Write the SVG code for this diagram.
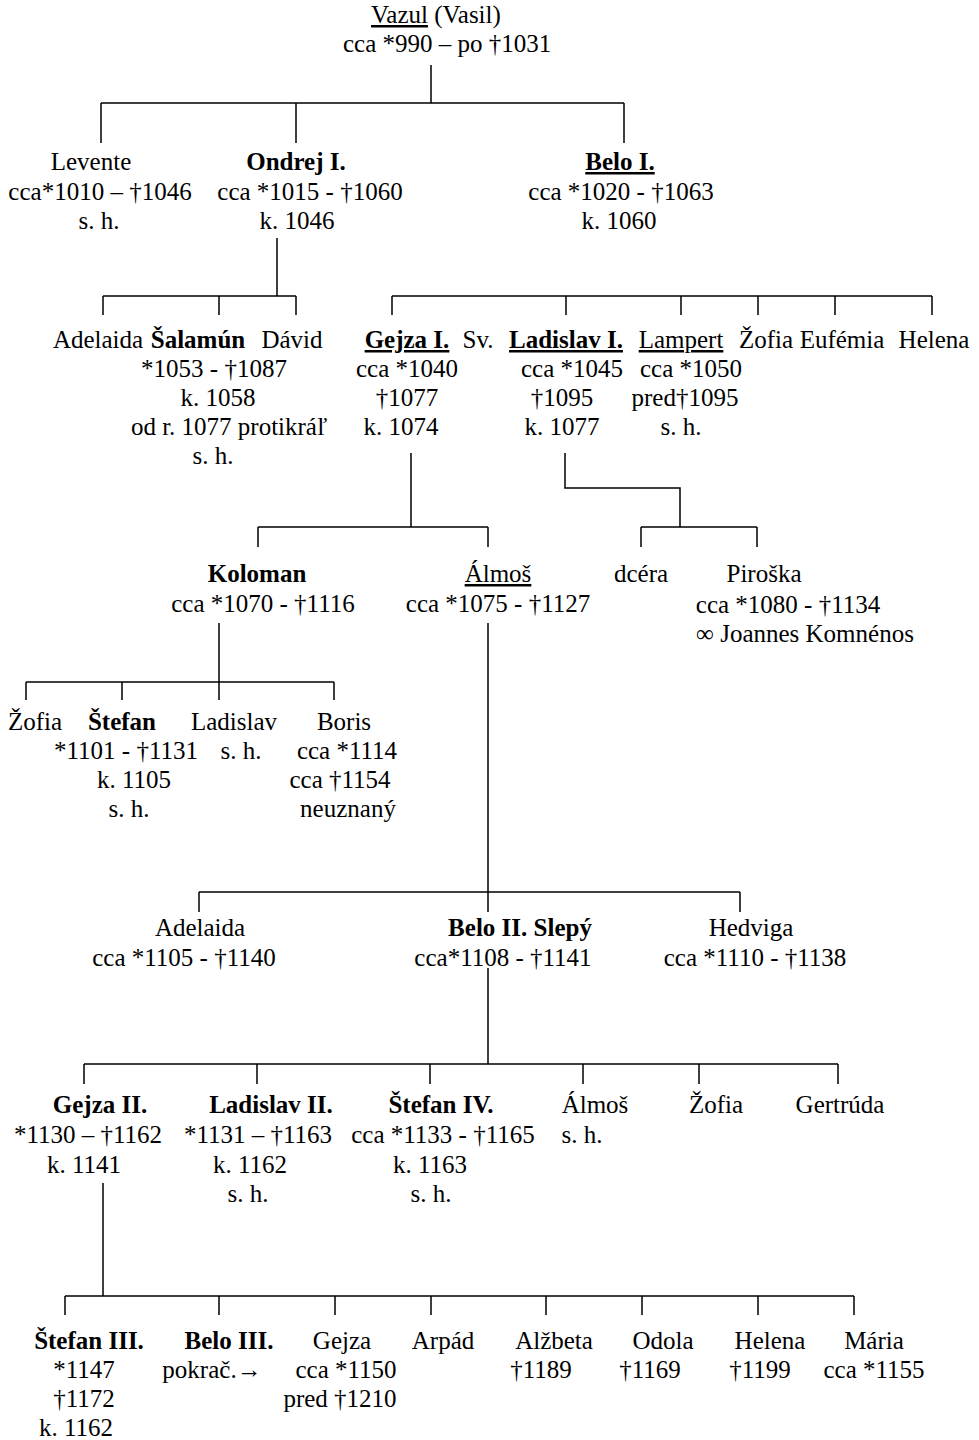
<svg xmlns="http://www.w3.org/2000/svg" width="979" height="1440" viewBox="0 0 979 1440">
<style>
text{font-family:"Liberation Serif","Times New Roman",serif;font-size:25px;fill:#000;text-anchor:middle}
.b{font-weight:bold}
.u{text-decoration:underline}
.s{text-anchor:start}
#connectors path{fill:none;stroke:#000;stroke-width:1.5}
</style>
<rect width="979" height="1440" fill="#fff"/>
<g id="connectors">
<path d="M431,65V103M101,103H624M101,103V143M296,103V143M624,103V143"/>
<path d="M277,238V296M103,296H296M103,296V315M219,296V315M296,296V315"/>
<path d="M392,296H932M392,296V315M566,296V315M681,296V315M758,296V315M835,296V315M932,296V315"/>
<path d="M411,453V527M258,527H488M258,527V547M488,527V547"/>
<path d="M565,453V488H680V527M641,527H757M641,527V547M757,527V547"/>
<path d="M219,623V700M26,682H334M26,682V700M122,682V700M334,682V700"/>
<path d="M488,623V912M199,892H740M199,892V912M740,892V912"/>
<path d="M488,968V1064M84,1064H838M84,1064V1084M257,1064V1084M430,1064V1084M583,1064V1084M699,1064V1084M838,1064V1084"/>
<path d="M103,1183V1296M65,1296H854M65,1296V1315M219,1296V1315M335,1296V1315M431,1296V1315M546,1296V1315M642,1296V1315M758,1296V1315M854,1296V1315"/>
</g>
<g id="vazul">
<text class="s" x="371" y="23"><tspan class="u">Vazul</tspan> (Vasil)</text>
<text class="s" x="343" y="52">cca *990 – po †1031</text>
</g>
<g id="levente">
<text x="91" y="170">Levente</text>
<text x="100" y="200">cca*1010 – †1046</text>
<text x="99" y="229">s. h.</text>
</g>
<g id="ondrej1">
<text class="b" x="296" y="170">Ondrej I.</text>
<text x="310" y="200">cca *1015 - †1060</text>
<text x="297" y="229">k. 1046</text>
</g>
<g id="belo1">
<text class="b u" x="620" y="170">Belo I.</text>
<text x="621" y="200">cca *1020 - †1063</text>
<text x="619" y="229">k. 1060</text>
</g>
<g id="adelaida1">
<text x="98" y="348">Adelaida</text>
</g>
<g id="salamun">
<text class="b" x="198" y="348">Šalamún</text>
<text x="214" y="377">*1053 - †1087</text>
<text x="218" y="406">k. 1058</text>
<text x="229" y="435">od r. 1077 protikráľ</text>
<text x="213" y="464">s. h.</text>
</g>
<g id="david">
<text x="292" y="348">Dávid</text>
</g>
<g id="gejza1">
<text class="b u" x="407" y="348">Gejza I.</text>
<text x="407" y="377">cca *1040</text>
<text x="407" y="406">†1077</text>
<text x="401" y="435">k. 1074</text>
</g>
<g id="ladislav1">
<text x="478" y="348">Sv.</text>
<text class="b u" x="566" y="348">Ladislav I.</text>
<text x="572" y="377">cca *1045</text>
<text x="562" y="406">†1095</text>
<text x="562" y="435">k. 1077</text>
</g>
<g id="lampert">
<text class="u" x="681" y="348">Lampert</text>
<text x="691" y="377">cca *1050</text>
<text x="685" y="406">pred†1095</text>
<text x="681" y="435">s. h.</text>
</g>
<g id="zofia1"><text x="766" y="348">Žofia</text></g>
<g id="eufemia"><text x="842" y="348">Eufémia</text></g>
<g id="helena1"><text x="934" y="348">Helena</text></g>
<g id="koloman">
<text class="b" x="257" y="582">Koloman</text>
<text x="263" y="612">cca *1070 - †1116</text>
</g>
<g id="almos1">
<text class="u" x="498" y="582">Álmoš</text>
<text x="498" y="612">cca *1075 - †1127</text>
</g>
<g id="dcera"><text x="641" y="582">dcéra</text></g>
<g id="piroska">
<text x="764" y="582">Piroška</text>
<text x="788" y="613">cca *1080 - †1134</text>
<text x="805" y="642">∞ Joannes Komnénos</text>
</g>
<g id="zofia2"><text x="35" y="730">Žofia</text></g>
<g id="stefan">
<text class="b" x="122" y="730">Štefan</text>
<text x="126" y="759">*1101 - †1131</text>
<text x="134" y="788">k. 1105</text>
<text x="129" y="817">s. h.</text>
</g>
<g id="ladislav">
<text x="234" y="730">Ladislav</text>
<text x="241" y="759">s. h.</text>
</g>
<g id="boris">
<text x="344" y="730">Boris</text>
<text x="347" y="759">cca *1114</text>
<text x="340" y="788">cca †1154</text>
<text x="348" y="817">neuznaný</text>
</g>
<g id="adelaida2">
<text x="200" y="936">Adelaida</text>
<text x="184" y="966">cca *1105 - †1140</text>
</g>
<g id="belo2">
<text class="b" x="520" y="936">Belo II. Slepý</text>
<text x="503" y="966">cca*1108 - †1141</text>
</g>
<g id="hedviga">
<text x="751" y="936">Hedviga</text>
<text x="755" y="966">cca *1110 - †1138</text>
</g>
<g id="gejza2">
<text class="b" x="100" y="1113">Gejza II.</text>
<text x="88" y="1143">*1130 – †1162</text>
<text x="84" y="1173">k. 1141</text>
</g>
<g id="ladislav2">
<text class="b" x="271" y="1113">Ladislav II.</text>
<text x="258" y="1143">*1131 – †1163</text>
<text x="250" y="1173">k. 1162</text>
<text x="248" y="1202">s. h.</text>
</g>
<g id="stefan4">
<text class="b" x="441" y="1113">Štefan IV.</text>
<text x="443" y="1143">cca *1133 - †1165</text>
<text x="430" y="1173">k. 1163</text>
<text x="431" y="1202">s. h.</text>
</g>
<g id="almos2">
<text x="595" y="1113">Álmoš</text>
<text x="582" y="1143">s. h.</text>
</g>
<g id="zofia3"><text x="716" y="1113">Žofia</text></g>
<g id="gertruda"><text x="840" y="1113">Gertrúda</text></g>
<g id="stefan3">
<text class="b" x="89" y="1349">Štefan III.</text>
<text x="84" y="1378">*1147</text>
<text x="84" y="1407">†1172</text>
<text x="76" y="1436">k. 1162</text>
</g>
<g id="belo3">
<text class="b" x="229" y="1349">Belo III.</text>
<text x="212" y="1378">pokrač.→</text>
</g>
<g id="gejza">
<text x="342" y="1349">Gejza</text>
<text x="346" y="1378">cca *1150</text>
<text x="340" y="1407">pred †1210</text>
</g>
<g id="arpad"><text x="443" y="1349">Arpád</text></g>
<g id="alzbeta">
<text x="554" y="1349">Alžbeta</text>
<text x="541" y="1378">†1189</text>
</g>
<g id="odola">
<text x="663" y="1349">Odola</text>
<text x="650" y="1378">†1169</text>
</g>
<g id="helena2">
<text x="770" y="1349">Helena</text>
<text x="760" y="1378">†1199</text>
</g>
<g id="maria">
<text x="874" y="1349">Mária</text>
<text x="874" y="1378">cca *1155</text>
</g>
</svg>
